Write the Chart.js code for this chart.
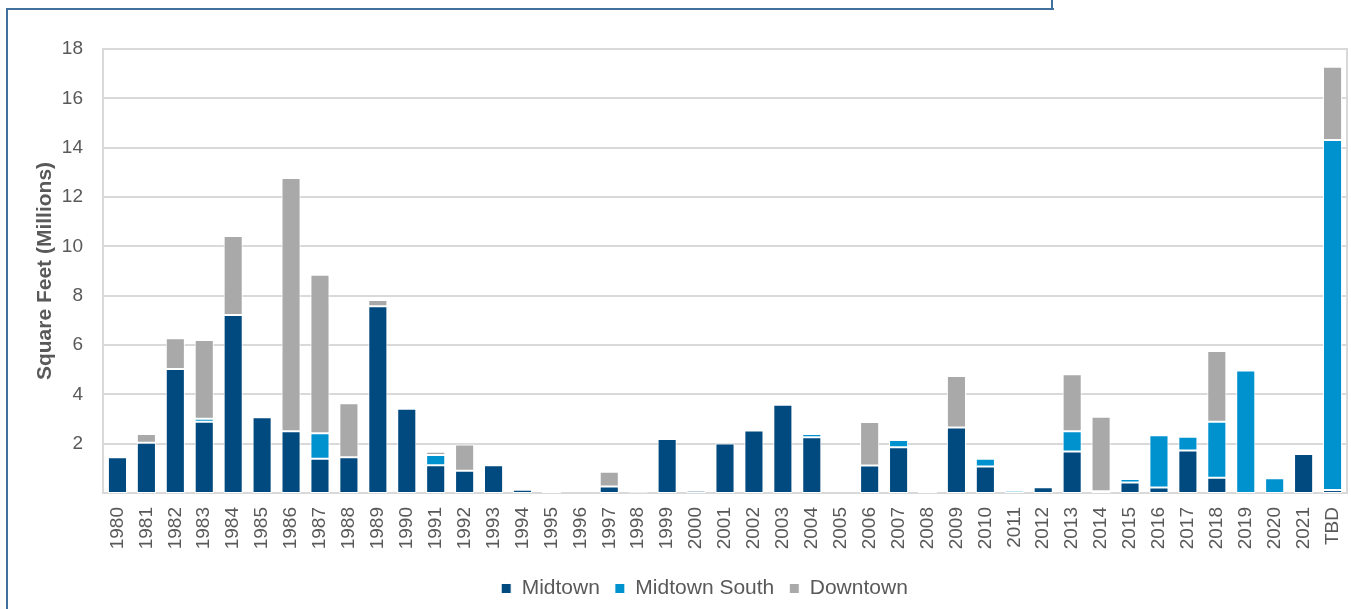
<!DOCTYPE html>
<html>
<head>
<meta charset="utf-8">
<title>Office Completions by Submarket</title>
<script src="https://cdn.jsdelivr.net/npm/chart.js@4.4.1/dist/chart.umd.min.js"></script>
<style>
    html, body { margin: 0; padding: 0; background: #fff; }
    #wrap { position: relative; width: 1351px; height: 609px; overflow: hidden; }
    #frame { position: absolute; left: 6px; top: 8px; width: 1046px; height: 700px;
             border-left: 2px solid #41709f; border-top: 2px solid #41709f; }
    #frameTick { position: absolute; left: 1051px; top: 0; width: 2px; height: 10px; background: #41709f; }
    canvas { position: absolute; left: 0; top: 0; }
</style>
</head>
<body>
<div id="wrap">
    <div id="frame"></div>
    <div id="frameTick"></div>
    <canvas id="completionsChart" width="1351" height="609"></canvas>
</div>
<script>
var years = ['1980','1981','1982','1983','1984','1985','1986','1987','1988','1989',
             '1990','1991','1992','1993','1994','1995','1996','1997','1998','1999',
             '2000','2001','2002','2003','2004','2005','2006','2007','2008','2009',
             '2010','2011','2012','2013','2014','2015','2016','2017','2018','2019',
             '2020','2021','TBD'];

var midtown = [1.45, 2.04, 5.03, 2.89, 7.22, 3.07, 2.50, 1.39, 1.45, 7.57,
               3.42, 1.12, 0.90, 1.12, 0.13, 0, 0, 0.26, 0, 2.19,
               0.09, 2.01, 2.53, 3.58, 2.26, 0, 1.11, 1.85, 0, 2.66,
               1.07, 0, 0.23, 1.68, 0, 0.43, 0.22, 1.72, 0.62, 0,
               0, 1.58, 0.12];

var midtownSouth = [0, 0, 0, 0.12, 0, 0, 0, 1.03, 0, 0,
                    0, 0.42, 0, 0, 0, 0.05, 0, 0, 0.03, 0,
                    0, 0, 0, 0, 0.13, 0, 0, 0.30, 0.04, 0,
                    0.32, 0.09, 0, 0.82, 0.07, 0.14, 2.12, 0.56, 2.27, 4.97,
                    0.60, 0, 14.19];

var downtown = [0, 0.35, 1.24, 3.19, 3.20, 0, 10.27, 6.43, 2.19, 0.25,
                0, 0.13, 1.07, 0, 0, 0, 0, 0.60, 0, 0,
                0, 0, 0, 0, 0, 0, 1.77, 0, 0, 2.08,
                0, 0, 0, 2.31, 3.02, 0, 0, 0, 2.87, 0,
                0, 0, 2.97];

var yTicks = [2, 4, 6, 8, 10, 12, 14, 16, 18];

(function () {
    'use strict';

    var FONT = '"Liberation Sans", Arial, sans-serif';
    var TEXT = '#595959';
    var GRID = '#d9d9d9';

    // light grey box round the plot area
    var plotBorder = {
        id: 'plotBorder',
        beforeDatasetsDraw: function (chart) {
            var a = chart.chartArea, ctx = chart.ctx;
            ctx.save();
            ctx.strokeStyle = GRID;
            ctx.lineWidth = 2;
            ctx.strokeRect(a.left, a.top, a.right - a.left, a.bottom - a.top);
            ctx.restore();
        }
    };

    function series(label, data, color) {
        return {
            label: label,
            data: data,
            backgroundColor: color,
            borderColor: '#ffffff',
            borderWidth: 1,
            borderSkipped: false,
            barPercentage: 0.66,
            categoryPercentage: 1
        };
    }

    new Chart(document.getElementById('completionsChart'), {
        type: 'bar',
        data: {
            labels: years,
            datasets: [
                series('Midtown', midtown, '#004a80'),
                series('Midtown South', midtownSouth, '#0092cf'),
                series('Downtown', downtown, '#a9a9a9')
            ]
        },
        options: {
            responsive: false,
            animation: false,
            // left padding pushes the legend to the plot's centre; y axis width makes up the rest
            layout: { padding: { top: 49, right: 4, bottom: 0, left: 62 } },
            plugins: {
                legend: {
                    position: 'bottom',
                    labels: {
                        color: TEXT,
                        font: { family: FONT, size: 21 },
                        boxWidth: 10, boxHeight: 10,
                        padding: 15
                    }
                },
                tooltip: { enabled: false }
            },
            scales: {
                x: {
                    stacked: true,
                    grid: { display: false },
                    border: { display: true, color: GRID, width: 2 },
                    ticks: {
                        color: TEXT,
                        font: { family: FONT, size: 19 },
                        minRotation: 90, maxRotation: 90,
                        autoSkip: false,
                        padding: 6
                    },
                    afterFit: function (scale) {
                        scale.height = 70;
                        scale.paddingLeft = 0;
                        scale.paddingRight = 0;
                    }
                },
                y: {
                    stacked: true,
                    min: 0, max: 18,
                    afterBuildTicks: function (scale) {
                        scale.ticks = yTicks.map(function (v) { return { value: v }; });
                    },
                    grid: { color: GRID, lineWidth: 2, drawTicks: false },
                    border: { display: true, color: GRID, width: 2 },
                    ticks: {
                        color: TEXT,
                        font: { family: FONT, size: 19 },
                        padding: 20
                    },
                    title: {
                        display: true,
                        text: 'Square Feet (Millions)',
                        color: TEXT,
                        font: { family: FONT, size: 21, weight: 'bold' },
                        padding: { top: -29, bottom: 0 }
                    },
                    afterFit: function (scale) { scale.width = 41; }
                }
            }
        },
        plugins: [plotBorder]
    });
})();
</script>
</body>
</html>
